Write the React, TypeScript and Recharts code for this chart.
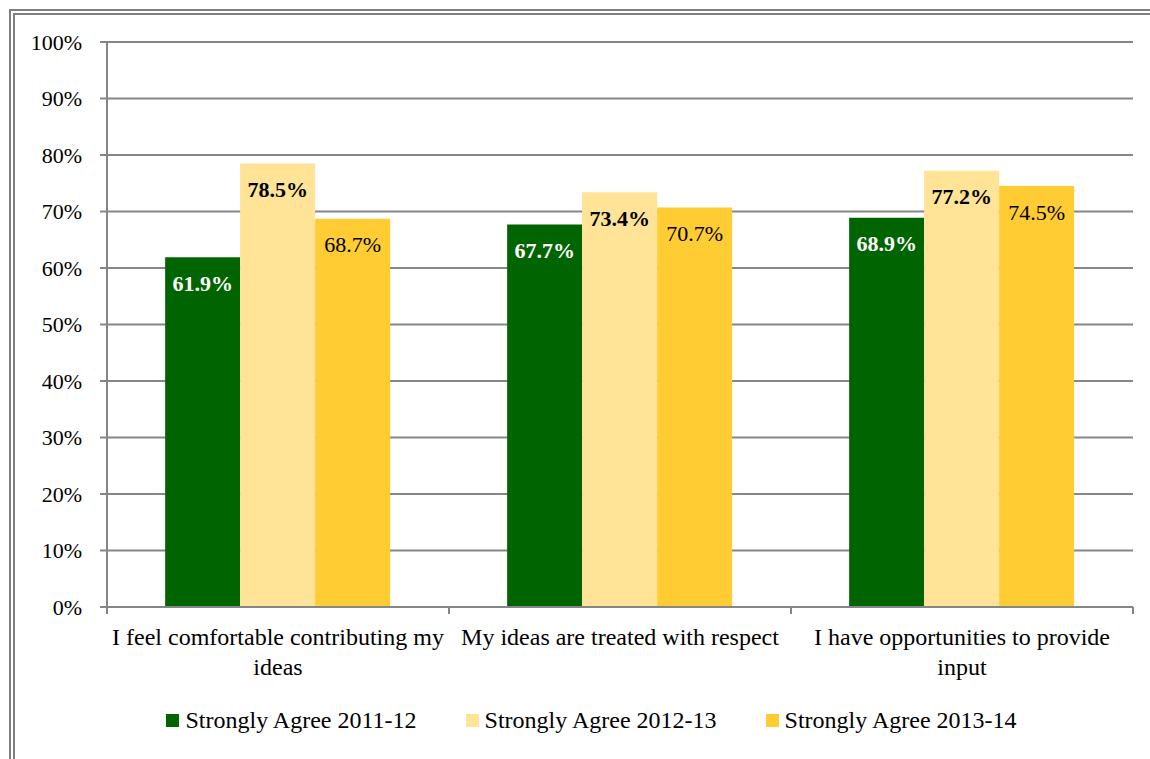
import React from "react";
import {
  BarChart,
  Bar,
  XAxis,
  YAxis,
  CartesianGrid,
  Legend,
  LabelList,
} from "recharts";

const categories = [
  "I feel comfortable contributing my ideas",
  "My ideas are treated with respect",
  "I have opportunities to provide input",
];
const agree2011 = [0.619, 0.677, 0.689];
const agree2012 = [0.785, 0.734, 0.772];
const agree2013 = [0.687, 0.707, 0.745];
const seriesNames = [
  "Strongly Agree 2011-12",
  "Strongly Agree 2012-13",
  "Strongly Agree 2013-14",
];
const yTicks = [0, 0.1, 0.2, 0.3, 0.4, 0.5, 0.6, 0.7, 0.8, 0.9, 1];

const FONT = '"Liberation Serif", "DejaVu Serif", serif';
const GRID = "#868686";

const data = categories.map((name, i) => ({
  name,
  a: agree2011[i],
  b: agree2012[i],
  c: agree2013[i],
}));

const pct = (v: number) => `${Math.round(v * 100)}%`;
const pct1 = (v: any) => `${(Number(v) * 100).toFixed(1)}%`;

let ctx: CanvasRenderingContext2D | null = null;
function wrapWords(text: string, maxWidth: number, font: string): string[] {
  if (!ctx) ctx = document.createElement("canvas").getContext("2d");
  if (!ctx) return [text];
  ctx.font = font;
  const lines: string[] = [];
  let cur = "";
  for (const w of text.split(" ")) {
    const next = cur ? cur + " " + w : w;
    if (cur && ctx.measureText(next).width > maxWidth) {
      lines.push(cur);
      cur = w;
    } else {
      cur = next;
    }
  }
  if (cur) lines.push(cur);
  return lines;
}

// category label plus tick marks at the band edges
function CategoryTick(props: any) {
  const { x, y, payload, index, visibleTicksCount } = props;
  const half = payload?.offset ?? 0;
  const lines = wrapWords(payload.value, 340, `24px "Liberation Serif"`);
  const last = index === visibleTicksCount - 1;
  return (
    <g>
      <line x1={x - half} x2={x - half} y1={y} y2={y + 7} stroke={GRID} strokeWidth={2} />
      {last && (
        <line x1={x + half} x2={x + half} y1={y} y2={y + 7} stroke={GRID} strokeWidth={2} />
      )}
      <text x={x} textAnchor="middle" fontSize={24} fontFamily={FONT} fill="#000">
        {lines.map((l, i) => (
          <tspan key={i} x={x} y={y + 38 + i * 30}>
            {l}
          </tspan>
        ))}
      </text>
    </g>
  );
}

function LegendContent(props: any) {
  const { payload } = props;
  return (
    <div
      style={{
        display: "flex",
        justifyContent: "center",
        boxSizing: "border-box",
        height: 51,
        paddingTop: 20,
        paddingLeft: 50,
        fontFamily: FONT,
        fontSize: 24,
        color: "#000",
      }}
    >
      {(payload || []).map((p: any, i: number) => (
        <div
          key={i}
          style={{
            display: "flex",
            alignItems: "center",
            height: 24,
            marginRight: i < 2 ? 49 : 0,
          }}
        >
          <span
            style={{
              display: "inline-block",
              width: 13,
              height: 13,
              background: p.color,
              marginRight: 6,
            }}
          />
          <span style={{ lineHeight: "24px" }}>{p.value}</span>
        </div>
      ))}
    </div>
  );
}

export default function App() {
  return (
    <div
      style={{
        position: "absolute",
        left: 0,
        top: 0,
        width: 1150,
        height: 759,
        overflow: "hidden",
        background: "#fff",
      }}
    >
      <div
        style={{
          position: "absolute",
          left: 9,
          top: 9,
          width: 1170,
          height: 780,
          border: "6px double #7f7f7f",
        }}
      />
      <div style={{ position: "absolute", left: 0, top: 0 }}>
        <BarChart
          width={1150}
          height={759}
          data={data}
          margin={{ top: 42, right: 17, left: 0, bottom: 20 }}
          barCategoryGap="17%"
          barGap={0}
        >
          <CartesianGrid vertical={false} stroke={GRID} strokeWidth={2} />
          <XAxis
            dataKey="name"
            tick={<CategoryTick />}
            tickLine={false}
            axisLine={{ stroke: GRID, strokeWidth: 2 }}
            tickSize={0}
            tickMargin={0}
            height={81}
            interval={0}
          />
          <YAxis
            domain={[0, 1]}
            ticks={yTicks}
            tickFormatter={pct}
            width={107}
            stroke={GRID}
            strokeWidth={2}
            tickSize={7}
            tickMargin={18}
            tick={{ fontSize: 22, fontFamily: FONT, fill: "#000" }}
          />
          <Legend verticalAlign="bottom" content={<LegendContent />} />
          <Bar dataKey="a" name={seriesNames[0]} fill="#006400" isAnimationActive={false}>
            <LabelList
              dataKey="a"
              position="insideTop"
              offset={18}
              formatter={pct1}
              style={{ fontSize: 22, fontFamily: FONT, fontWeight: "bold", fill: "#fff" }}
            />
          </Bar>
          <Bar dataKey="b" name={seriesNames[1]} fill="#FFE397" isAnimationActive={false}>
            <LabelList
              dataKey="b"
              position="insideTop"
              offset={18}
              formatter={pct1}
              style={{ fontSize: 22, fontFamily: FONT, fontWeight: "bold", fill: "#000" }}
            />
          </Bar>
          <Bar dataKey="c" name={seriesNames[2]} fill="#FFCC33" isAnimationActive={false}>
            <LabelList
              dataKey="c"
              position="insideTop"
              offset={18}
              formatter={pct1}
              style={{ fontSize: 22, fontFamily: FONT, fill: "#000" }}
            />
          </Bar>
        </BarChart>
      </div>
    </div>
  );
}
